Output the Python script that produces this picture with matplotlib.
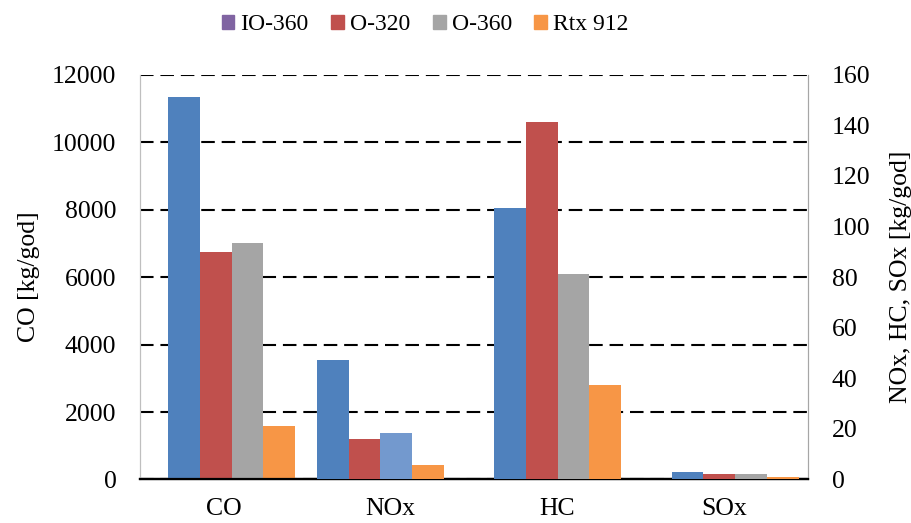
import matplotlib.pyplot as plt
from matplotlib.patches import Patch

plt.rcParams['font.family'] = ['Liberation Serif', 'DejaVu Serif']

categories = ["CO", "NOx", "HC", "SOx"]
engines = ["IO-360", "O-320", "O-360", "Rtx 912"]

# CO on left axis, the rest on right axis (kg/god)
io360 = [11330, 47.2, 107.2, 3.1]
o320 = [6740, 16.2, 141.2, 2.0]
o360 = [7000, 18.2, 81.1, 2.0]
rtx912 = [1590, 5.9, 37.3, 1.0]
series = [io360, o320, o360, rtx912]

bar_colors = ["#4F81BD", "#C0504D", "#A5A5A5", "#F79646"]
legend_colors = ["#8064A2", "#C0504D", "#A5A5A5", "#F79646"]
# the NOx group in the original has its O-360 bar in light blue
nox_o360_color = "#7399CE"
# groups are not centred on their labels in the original
group_shift = [0.048, -0.06, 0.0, 0.063]
width = 0.19
fs = 18.5

fig = plt.figure(figsize=(9.12, 5.23), dpi=100)
ax = fig.add_axes([0.1535, 0.0832, 0.7325, 0.774])
ax2 = ax.twinx()

for j, vals in enumerate(series):
    for i, cat in enumerate(categories):
        x = i + group_shift[i] + (j - 1.5) * width
        c = bar_colors[j]
        if cat == "NOx" and j == 2:
            c = nox_o360_color
        target = ax if i == 0 else ax2
        target.bar(x, vals[i], width, color=c, zorder=3, linewidth=0)

ax.set_xlim(-0.5, 3.5)
ax.set_ylim(0, 12000)
ax2.set_ylim(0, 160)
ax.set_yticks(range(0, 12001, 2000))
ax2.set_yticks(range(0, 161, 20))
ax.set_xticks(range(4))
ax.set_xticklabels(categories)

ax.yaxis.grid(True, color="black", linewidth=1.5, linestyle=(0, (6.5, 3.3)))
ax.set_axisbelow(True)

ax.tick_params(axis="both", length=0, labelsize=fs)
ax.tick_params(axis="x", pad=13)
ax.tick_params(axis="y", pad=17)
ax2.tick_params(axis="y", length=0, labelsize=fs, pad=17)

for a in (ax, ax2):
    a.spines["top"].set_visible(False)
    a.spines["left"].set_color("#BFBFBF")
    a.spines["right"].set_color("#A6A6A6")
    a.spines["bottom"].set_color("black")
    a.spines["bottom"].set_linewidth(1.6)
ax2.patch.set_visible(False)

ax.set_ylabel("CO [kg/god]", fontsize=fs)
ax2.set_ylabel("NOx, HC, SOx [kg/god]", fontsize=fs, rotation=90)
ax.yaxis.set_label_coords(-0.149, 0.5)
ax2.yaxis.set_label_coords(1.122, 0.5)

handles = [Patch(color=c, label=n) for c, n in zip(legend_colors, engines)]
fig.legend(handles=handles, loc="center", bbox_to_anchor=(0.466, 0.953), ncol=4,
           frameon=False, fontsize=17, handlelength=0.55, handleheight=0.55,
           handletextpad=0.25, columnspacing=0.95)

fig.savefig("out.png", dpi=100)
